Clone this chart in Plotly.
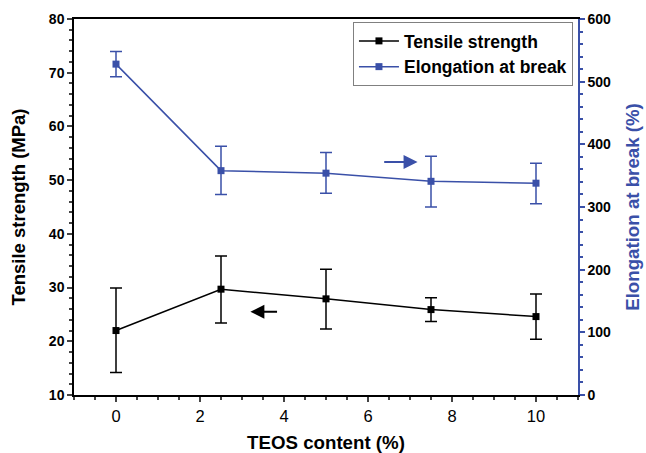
import plotly.graph_objects as go

teos = [0, 2.5, 5, 7.5, 10]
tensile = [22.0, 29.7, 27.9, 25.9, 24.6]
tensile_err_plus = [7.9, 6.2, 5.5, 2.2, 4.2]
tensile_err_minus = [7.8, 6.3, 5.6, 2.2, 4.2]
elong = [528, 358, 354, 341, 338]
elong_err_plus = [20, 39, 33, 40, 32]
elong_err_minus = [20, 38, 32, 41, 33]

BLUE = "#3a50a8"
FONT = "Liberation Sans"

fig = go.Figure()
fig.add_trace(go.Scatter(
    x=teos, y=tensile, name="<b>Tensile strength</b>", mode="lines+markers",
    line=dict(color="black", width=1.5),
    marker=dict(symbol="square", size=7, color="black"),
    error_y=dict(type="data", symmetric=False, array=tensile_err_plus,
                 arrayminus=tensile_err_minus, color="black", thickness=1.5, width=6),
))
fig.add_trace(go.Scatter(
    x=teos, y=elong, name="<b>Elongation at break</b>", mode="lines+markers", yaxis="y2",
    line=dict(color=BLUE, width=1.5),
    marker=dict(symbol="square", size=7, color=BLUE),
    error_y=dict(type="data", symmetric=False, array=elong_err_plus,
                 arrayminus=elong_err_minus, color=BLUE, thickness=1.5, width=6),
))

ytickfont = dict(family=FONT, size=14, color="black", weight="bold")
xtickfont = dict(family=FONT, size=16.5, color="black")
fig.update_layout(
    width=646, height=453,
    margin=dict(l=74, r=68, t=19, b=58),
    paper_bgcolor="white", plot_bgcolor="white",
    font=dict(family=FONT, color="black"),
    showlegend=True,
    legend=dict(x=0.99, y=0.992, xanchor="right", yanchor="top",
                bordercolor="#808080", borderwidth=1, bgcolor="white",
                font=dict(family=FONT, size=17.5, color="black"),
                tracegroupgap=0, itemwidth=40),
    xaxis=dict(range=[-1, 11], dtick=2, tick0=0, ticks="outside", ticklen=5, tickwidth=1.5,
               showline=True, linecolor="black", linewidth=1.5, mirror=True, automargin=False,
               showgrid=False, zeroline=False, tickfont=xtickfont,
               minor=dict(dtick=0.5, tick0=0, ticks="outside", ticklen=3, tickwidth=1.5, showgrid=False),
               title=dict(text="<b>TEOS content (%)</b>", font=dict(family=FONT, size=18.7), standoff=12)),
    yaxis=dict(range=[10, 80], dtick=10, ticks="outside", ticklen=5, tickwidth=1.5,
               showline=True, linecolor="black", linewidth=1.5, automargin=False,
               showgrid=False, zeroline=False, tickfont=ytickfont,
               minor=dict(dtick=2, ticks="outside", ticklen=3, tickwidth=1.5, showgrid=False),
               title=dict(text="<b>Tensile strength (MPa)</b>", font=dict(family=FONT, size=18.5), standoff=18)),
    yaxis2=dict(range=[0, 600], dtick=100, overlaying="y", side="right",
                ticks="outside", ticklen=5, tickwidth=1.5, tickcolor=BLUE, automargin=False,
                showline=True, linecolor=BLUE, linewidth=1.5,
                showgrid=False, zeroline=False, tickfont=ytickfont,
                minor=dict(dtick=20, ticks="outside", ticklen=3, tickwidth=1.5, tickcolor=BLUE, showgrid=False),
                title=dict(text="<b>Elongation at break (%)</b>", font=dict(family=FONT, size=18.7, color=BLUE), standoff=16)),
)

fig.add_annotation(x=3.2, y=25.5, ax=3.87, ay=25.5, xref="x", yref="y", axref="x", ayref="y",
                   showarrow=True, arrowhead=2, arrowsize=1.4, arrowwidth=2, arrowcolor="black", text="")
fig.add_annotation(x=7.18, y=372, ax=6.35, ay=372, xref="x", yref="y2", axref="x", ayref="y2",
                   showarrow=True, arrowhead=2, arrowsize=1.4, arrowwidth=2, arrowcolor=BLUE, text="")

fig.write_html("out.html")
